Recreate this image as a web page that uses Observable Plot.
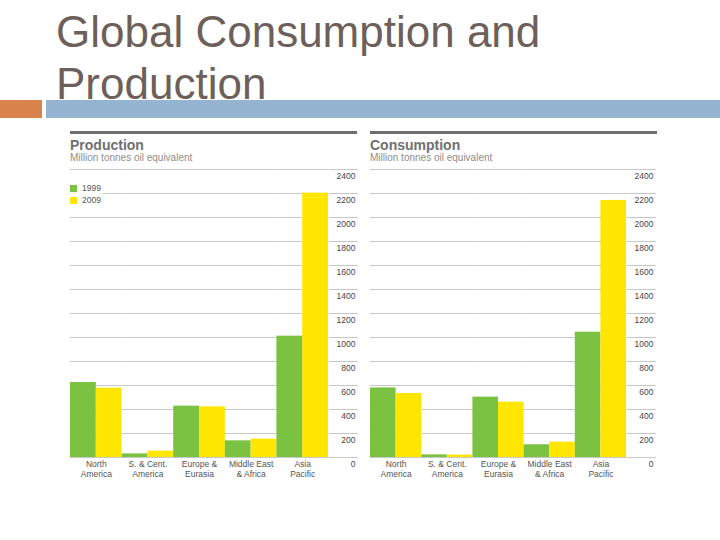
<!DOCTYPE html>
<html>
<head>
<meta charset="utf-8">
<script src="https://cdn.jsdelivr.net/npm/d3@7"></script>
<script src="https://cdn.jsdelivr.net/npm/@observablehq/plot@0.6"></script>
<style>
  body { margin: 0; background: #fff; }
  #page { position: relative; width: 720px; height: 540px; overflow: hidden; font-family: "Liberation Sans", Arial, sans-serif; }
  .title { position: absolute; left: 56px; top: 6px; font-size: 44px; line-height: 52px; color: #6d5f5a; }
  .bar-o { position: absolute; left: 0; top: 100px; width: 42px; height: 18px; background: #d9824c; }
  .bar-b { position: absolute; left: 46px; top: 100px; width: 674px; height: 18px; background: #95b4d1; }
  .head { position: absolute; top: 131px; width: 287px; border-top: 3px solid #6e6e6e; z-index: 2; }
  .head .h { position: absolute; top: 3px; left: 0; font-size: 14px; font-weight: bold; color: #707070; white-space: nowrap; }
  .head .s { position: absolute; top: 18px; left: 0; font-size: 10px; color: #8e8e8e; white-space: nowrap; }
  .chart { position: absolute; top: 160px; z-index: 1; }
  .legend { position: absolute; left: 69px; top: 183px; width: 34px; height: 23px; background: #fff; font-size: 8.5px; color: #555; z-index: 3; }
  .legend div { height: 12px; line-height: 10px; white-space: nowrap; }
  .legend span.sw { display: inline-block; width: 7px; height: 7px; margin: 0 5px 0 1px; vertical-align: -1px; }
</style>
</head>
<body>
<div id="page">
  <div class="title">Global Consumption and<br>Production</div>
  <div class="bar-o"></div>
  <div class="bar-b"></div>
  <div class="head" style="left:70px"><div class="h">Production</div><div class="s">Million tonnes oil equivalent</div></div>
  <div class="head" style="left:370px"><div class="h">Consumption</div><div class="s">Million tonnes oil equivalent</div></div>
  <div class="chart" id="prod" style="left:70px"></div>
  <div class="chart" id="cons" style="left:370px"></div>
  <div class="legend" id="legend"></div>
</div>
<script>
const regions = ["North America", "S. & Cent. America", "Europe & Eurasia", "Middle East & Africa", "Asia Pacific"];
const regionLabels = ["North\nAmerica", "S. & Cent.\nAmerica", "Europe &\nEurasia", "Middle East\n& Africa", "Asia\nPacific"];
const years = ["1999", "2009"];
const yearColors = ["#7cc242", "#ffe600"];
const production1999 = [625, 30, 428, 139, 1011];
const production2009 = [578, 53, 422, 153, 2203];
const consumption1999 = [580, 22, 503, 106, 1044];
const consumption2009 = [533, 20, 461, 128, 2142];
const yTicks = [0, 200, 400, 600, 800, 1000, 1200, 1400, 1600, 1800, 2000, 2200, 2400];

function panel(v1999, v2009, width) {
  const data = regions.flatMap((r, i) => [
    {region: r, year: years[0], value: v1999[i]},
    {region: r, year: years[1], value: v2009[i]}
  ]);
  return Plot.plot({
    width,
    height: 322,
    marginLeft: 0,
    marginRight: 30,
    marginTop: 9,
    marginBottom: 25,
    style: {fontFamily: "Liberation Sans, Arial, sans-serif", fontSize: "8.5px", color: "#555", background: "transparent"},
    fx: {domain: regions, padding: 0, round: false, label: null},
    x: {domain: years, padding: 0, round: false, axis: null},
    y: {domain: [0, 2400], axis: null},
    color: {domain: years, range: yearColors},
    marks: [
      Plot.gridY(yTicks, {stroke: "#c8c8c8", strokeOpacity: 1}),
      Plot.axisY(yTicks, {anchor: "right", tickSize: 30, stroke: "#c8c8c8", strokeOpacity: 1, tickFormat: () => "", label: null}),
      Plot.axisY(yTicks, {anchor: "right", tickSize: 0, tickPadding: 27, textAnchor: "end", dy: 7, label: null, fill: "#444", tickFormat: d => String(d)}),
      Plot.axisFx({anchor: "bottom", tickSize: 0, tickPadding: 3, label: null, lineHeight: 1.15, fill: "#555",
        tickFormat: r => regionLabels[regions.indexOf(r)]}),
      Plot.barY(data, {fx: "region", x: "year", y: "value", fill: "year"})
    ]
  });
}

document.getElementById("prod").append(panel(production1999, production2009, 288));
document.getElementById("cons").append(panel(consumption1999, consumption2009, 286));

const legend = document.getElementById("legend");
years.forEach((y, i) => {
  const row = document.createElement("div");
  row.innerHTML = `<span class="sw" style="background:${yearColors[i]}"></span>${y}`;
  legend.append(row);
});
</script>
</body>
</html>
